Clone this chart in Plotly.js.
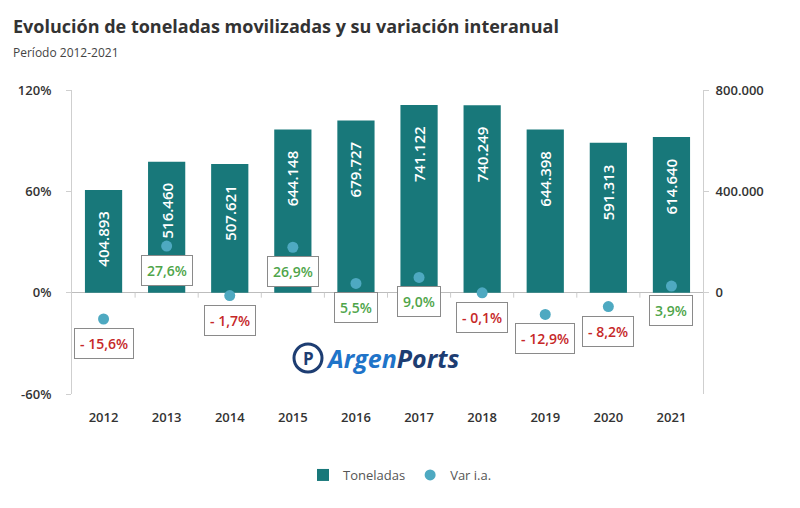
<!DOCTYPE html>
<html>
<head>
<meta charset="utf-8">
<script src="https://cdn.plot.ly/plotly-3.0.1.min.js"></script>
<style>html,body{margin:0;padding:0;background:#fff;}#chart{width:800px;height:508px;}</style>
</head>
<body>
<div id="chart"></div>
<script>
// ---- data ----
const years = ['2012','2013','2014','2015','2016','2017','2018','2019','2020','2021'];
const toneladas = [404893, 516460, 507621, 644148, 679727, 741122, 740249, 644398, 591313, 614640];
const varIA = [-15.6, 27.6, -1.7, 26.9, 5.5, 9.0, -0.1, -12.9, -8.2, 3.9];
const pctTicks = [-60, 0, 60, 120];
const pctTickText = ['-60%', '0%', '60%', '120%'];
const tonTicks = [0, 400000, 800000];
const tonTickText = ['0', '400.000', '800.000'];

// ---- styles ----
const FONT = '"Open Sans", "Noto Sans", sans-serif';
const BAR_COLOR = '#18787a';
const DOT_COLOR = '#4ea9c1';
const GREEN = '#4fa54a';
const RED = '#c62828';

function fmtThousands(n){ return Math.round(n).toString().replace(/\B(?=(\d{3})+(?!\d))/g, '.'); }
function fmtPct(v){ const s = Math.abs(v).toFixed(1).replace('.', ',') + '%'; return v < 0 ? '- ' + s : s; }

const traces = [
  {
    type: 'bar', name: 'Toneladas', x: years, y: toneladas, yaxis: 'y',
    marker: {color: BAR_COLOR}, width: 0.59, hoverinfo: 'x+y'
  },
  {
    type: 'scatter', mode: 'markers', name: 'Var i.a.', x: years, y: varIA, yaxis: 'y2',
    marker: {color: DOT_COLOR, size: 11}, hoverinfo: 'x+y'
  }
];

const annotations = [];
years.forEach((yr, i) => {
  // x given as the category index so it is not read as a numeric position
  annotations.push({
    x: i, y: toneladas[i], xref: 'x', yref: 'y',
    text: fmtThousands(toneladas[i]), textangle: -90, showarrow: false,
    xanchor: 'center', yanchor: 'top', yshift: -19,
    font: {family: FONT, size: 15, color: '#ffffff', weight: 600}
  });
  annotations.push({
    x: i, y: varIA[i], xref: 'x', yref: 'y2',
    text: fmtPct(varIA[i]), showarrow: false,
    xanchor: 'center', yanchor: 'top', yshift: -9,
    bgcolor: '#ffffff', bordercolor: '#8a8a8a', borderwidth: 1, borderpad: 5,
    font: {family: FONT, size: 14, color: varIA[i] < 0 ? RED : GREEN, weight: 600}
  });
});

// subtitle
annotations.push({
  xref: 'paper', yref: 'paper', x: -61/631, y: 1 + (90-52)/304, xanchor: 'left', yanchor: 'middle',
  text: 'Período 2012-2021', showarrow: false,
  font: {family: FONT, size: 12, color: '#444'}
});
// watermark
annotations.push({
  xref: 'paper', yref: 'paper', x: (324-72)/631, y: (394-358)/304, xanchor: 'left', yanchor: 'middle',
  text: '<b><i><span style="color:#1f74c9">Argen</span><span style="color:#1d3d72">Ports</span></i></b>', showarrow: false,
  font: {family: FONT, size: 25}
});
annotations.push({
  xref: 'paper', yref: 'paper', x: (308-72)/631, y: (394-358)/304, xanchor: 'center', yanchor: 'middle',
  text: '<b>P</b>', showarrow: false,
  font: {family: FONT, size: 17, color: '#1d3d72'}
});

const shapes = [
  {type: 'circle', xref: 'paper', yref: 'paper',
   x0: (308-72-14)/631, x1: (308-72+14)/631, y0: (394-358-14)/304, y1: (394-358+14)/304,
   line: {color: '#1d3d72', width: 3}}
];
for (let i = 1; i < years.length; i++) {
  shapes.push({type: 'line', xref: 'paper', yref: 'paper', x0: i / years.length, x1: i / years.length,
    y0: 1/3 - 5/304, y1: 1/3, line: {color: '#cccccc', width: 1}});
}

const layout = {
  width: 800, height: 508,
  paper_bgcolor: '#ffffff', plot_bgcolor: '#ffffff',
  margin: {l: 72, r: 97, t: 90, b: 114},
  font: {family: FONT, color: '#333'},
  title: {
    text: '<b>Evolución de toneladas movilizadas y su variación interanual</b>',
    xref: 'container', yref: 'container', x: 13/800, xanchor: 'left', y: 1 - 27/508, yanchor: 'middle',
    font: {family: FONT, size: 18, color: '#333'}
  },
  showlegend: true,
  legend: {
    orientation: 'h', xref: 'container', yref: 'container', x: 0.5, xanchor: 'center',
    y: 1 - 475/508, yanchor: 'middle',
    font: {family: FONT, size: 13, color: '#555'}, itemwidth: 30, traceorder: 'normal'
  },
  xaxis: {
    type: 'category', categoryorder: 'array', categoryarray: years,
    range: [-0.5, years.length - 0.5], autorange: false,
    showgrid: false, showline: false, zeroline: false, ticks: '',
    ticklabelstandoff: 14,
    tickfont: {family: FONT, size: 13, color: '#333', weight: 600}
  },
  yaxis: {
    side: 'right', range: [-400000, 800000], autorange: false,
    tickmode: 'array', tickvals: tonTicks, ticktext: tonTickText,
    showgrid: false, zeroline: true, zerolinecolor: '#bdbdbd', zerolinewidth: 1,
    showline: true, linecolor: '#cfcfcf', ticks: 'outside', ticklen: 5, tickcolor: '#cfcfcf',
    ticklabelstandoff: 4,
    tickfont: {family: FONT, size: 13, color: '#333', weight: 600}
  },
  yaxis2: {
    overlaying: 'y', side: 'left', range: [-60, 120], autorange: false,
    tickmode: 'array', tickvals: pctTicks, ticktext: pctTickText,
    showgrid: false, zeroline: false,
    showline: true, linecolor: '#cfcfcf', ticks: 'outside', ticklen: 5, tickcolor: '#cfcfcf',
    ticklabelstandoff: 12,
    tickfont: {family: FONT, size: 13, color: '#333', weight: 600}
  },
  annotations: annotations,
  shapes: shapes
};

Plotly.newPlot('chart', traces, layout, {displayModeBar: false, staticPlot: true});
</script>
</body>
</html>
